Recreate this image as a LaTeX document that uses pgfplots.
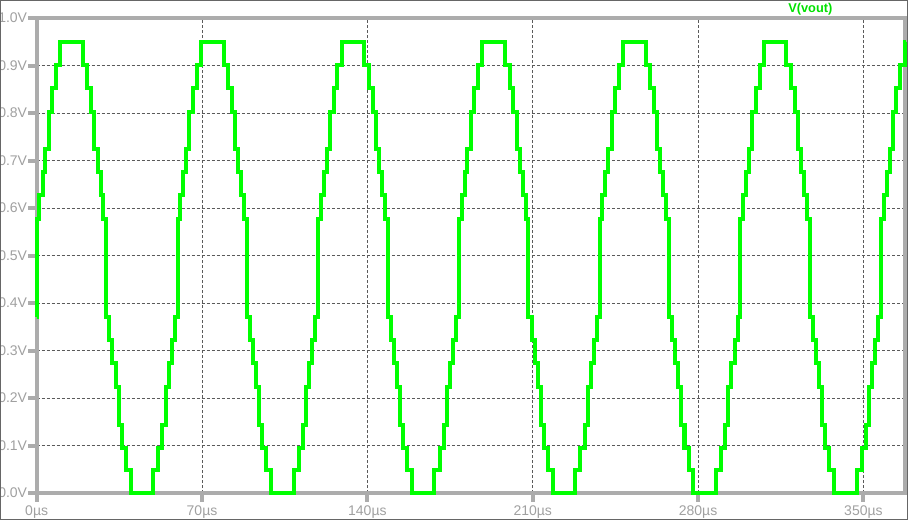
\documentclass[border=0pt]{standalone}
\usepackage{fontspec}
\setmainfont{Liberation Sans}
\usepackage{pgfplots}
\pgfplotsset{compat=1.18}

\definecolor{boxgray}{RGB}{172,172,172}
\definecolor{labgray}{RGB}{160,160,160}
\definecolor{gridgray}{RGB}{90,90,90}
\definecolor{trace}{RGB}{0,255,0}
\definecolor{titlegreen}{RGB}{0,225,0}

\begin{document}
\begin{tikzpicture}
% page = window, axis box sits at the origin
\useasboundingbox (-27.5pt,-20.25pt) rectangle (653.25pt,369.75pt);
\begin{axis}[
    name=ax,
    at={(0,0)}, anchor=south west,
    scale only axis,
    width=651pt,
    height=356.25pt,
    xmin=0, xmax=367.6,
    ymin=0, ymax=1.0,
    clip=false,
    axis line style={boxgray, line width=3pt},
    xtick={0,70,140,210,280,350},
    xticklabels={0µs,70µs,140µs,210µs,280µs,350µs},
    ytick={0,0.1,0.2,0.3,0.4,0.5,0.6,0.7,0.8,0.9,1.0},
    yticklabels={0.0V,0.1V,0.2V,0.3V,0.4V,0.5V,0.6V,0.7V,0.8V,0.9V,1.0V},
    tick pos=left,
    tick align=outside,
    major tick length=6.5pt,
    every major tick/.style={boxgray, line width=3pt},
    ticklabel style={font=\fontsize{10.5}{12}\selectfont, text=labgray},
    yticklabel style={inner sep=0.5pt},
    xticklabel style={inner sep=1pt, yshift=-1.5pt},
    grid=major,
    major grid style={gridgray, line width=0.75pt, dash pattern=on 2.25pt off 1.5pt},
]

% V(vout), stepped sine, held between points
\addplot[trace, line width=3pt, const plot, line join=miter] coordinates {
(0,0.370) (0.07,0.577) (1.17,0.627) (2.47,0.675) (3.67,0.724) (5.07,0.803)
(6.57,0.852) (8.17,0.901) (9.97,0.950) (19.57,0.901) (21.47,0.852) (23.07,0.803)
(24.47,0.724) (25.77,0.675) (27.07,0.627) (28.27,0.577) (29.47,0.370) (30.77,0.322)
(32.07,0.273) (33.37,0.224) (34.67,0.144) (35.97,0.096) (37.67,0.048) (39.77,0.000)
(49.24,0.048) (51.44,0.096) (53.24,0.144) (54.54,0.224) (55.84,0.273) (57.14,0.322)
(58.44,0.370) (59.64,0.577) (60.74,0.627) (62.04,0.675) (63.24,0.724) (64.64,0.803)
(66.14,0.852) (67.74,0.901) (69.54,0.950) (79.14,0.901) (81.04,0.852) (82.64,0.803)
(84.04,0.724) (85.34,0.675) (86.64,0.627) (87.84,0.577) (89.04,0.370) (90.34,0.322)
(91.64,0.273) (92.94,0.224) (94.24,0.144) (95.54,0.096) (97.24,0.048) (99.34,0.000)
(108.81,0.048) (111.01,0.096) (112.81,0.144) (114.11,0.224) (115.41,0.273) (116.71,0.322)
(118.01,0.370) (119.21,0.577) (120.31,0.627) (121.61,0.675) (122.81,0.724) (124.21,0.803)
(125.71,0.852) (127.31,0.901) (129.11,0.950) (138.71,0.901) (140.61,0.852) (142.21,0.803)
(143.61,0.724) (144.91,0.675) (146.21,0.627) (147.41,0.577) (148.61,0.370) (149.91,0.322)
(151.21,0.273) (152.51,0.224) (153.81,0.144) (155.11,0.096) (156.81,0.048) (158.91,0.000)
(168.38,0.048) (170.58,0.096) (172.38,0.144) (173.68,0.224) (174.98,0.273) (176.28,0.322)
(177.58,0.370) (178.78,0.577) (179.88,0.627) (181.18,0.675) (182.38,0.724) (183.78,0.803)
(185.28,0.852) (186.88,0.901) (188.68,0.950) (198.28,0.901) (200.18,0.852) (201.78,0.803)
(203.18,0.724) (204.48,0.675) (205.78,0.627) (206.98,0.577) (208.18,0.370) (209.48,0.322)
(210.78,0.273) (212.08,0.224) (213.38,0.144) (214.68,0.096) (216.38,0.048) (218.48,0.000)
(227.95,0.048) (230.15,0.096) (231.95,0.144) (233.25,0.224) (234.55,0.273) (235.85,0.322)
(237.15,0.370) (238.35,0.577) (239.45,0.627) (240.75,0.675) (241.95,0.724) (243.35,0.803)
(244.85,0.852) (246.45,0.901) (248.25,0.950) (257.85,0.901) (259.75,0.852) (261.35,0.803)
(262.75,0.724) (264.05,0.675) (265.35,0.627) (266.55,0.577) (267.75,0.370) (269.05,0.322)
(270.35,0.273) (271.65,0.224) (272.95,0.144) (274.25,0.096) (275.95,0.048) (278.05,0.000)
(287.52,0.048) (289.72,0.096) (291.52,0.144) (292.82,0.224) (294.12,0.273) (295.42,0.322)
(296.72,0.370) (297.92,0.577) (299.02,0.627) (300.32,0.675) (301.52,0.724) (302.92,0.803)
(304.42,0.852) (306.02,0.901) (307.82,0.950) (317.42,0.901) (319.32,0.852) (320.92,0.803)
(322.32,0.724) (323.62,0.675) (324.92,0.627) (326.12,0.577) (327.32,0.370) (328.62,0.322)
(329.92,0.273) (331.22,0.224) (332.52,0.144) (333.82,0.096) (335.52,0.048) (337.62,0.000)
(347.09,0.048) (349.29,0.096) (351.09,0.144) (352.39,0.224) (353.69,0.273) (354.99,0.322)
(356.29,0.370) (357.49,0.577) (358.59,0.627) (359.89,0.675) (361.09,0.724) (362.49,0.803)
(363.99,0.852) (365.59,0.901) (367.39,0.950) (367.6,0.950)
};

\node[font=\bfseries\fontsize{9.6}{11}\selectfont, text=titlegreen]
    at (rel axis cs:0.891,1) [yshift=6.75pt] {V(vout)};
\end{axis}

% window frame
\draw[gray!80!black, line width=1pt]
    (-27pt,-19.75pt) rectangle (652.75pt,369.25pt);
\end{tikzpicture}
\end{document}
